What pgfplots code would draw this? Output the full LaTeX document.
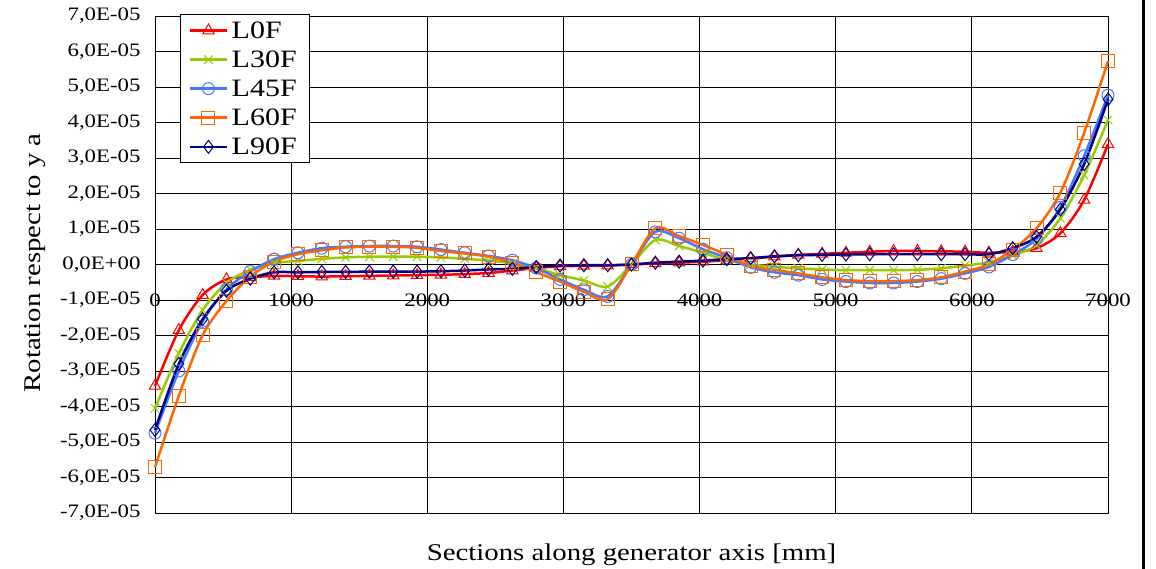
\documentclass[border=0pt]{standalone}
\usepackage{fontspec}
\setmainfont{Liberation Serif}[FakeStretch=1.2]
\usepackage{pgfplots}
\pgfplotsset{compat=1.18}
\usepackage{pgfplotstable}
\definecolor{cLzero}{RGB}{255,0,0}
\definecolor{cLthirty}{RGB}{153,204,0}
\definecolor{cLfortyfive}{RGB}{70,120,255}
\definecolor{cLsixty}{RGB}{255,102,0}
\definecolor{cLninety}{RGB}{0,0,128}
\pgfplotstableread{
x L0F L30F L45F L60F L90F
0 -3.42 -4.05 -4.75 -5.71 -4.66
175 -1.85 -2.5 -3.0 -3.7 -2.8
350 -0.86 -1.28 -1.6 -1.99 -1.54
525 -0.42 -0.52 -0.7 -1.03 -0.74
700 -0.36 -0.15 -0.2 -0.34 -0.4
875 -0.32 0.04 0.15 0.08 -0.22
1050 -0.33 0.1 0.33 0.29 -0.22
1225 -0.34 0.16 0.46 0.4 -0.21
1400 -0.33 0.2 0.5 0.48 -0.21
1575 -0.32 0.22 0.52 0.5 -0.2
1750 -0.31 0.22 0.52 0.5 -0.2
1925 -0.3 0.22 0.5 0.47 -0.2
2100 -0.29 0.2 0.42 0.38 -0.19
2275 -0.27 0.16 0.33 0.31 -0.17
2450 -0.24 0.11 0.24 0.22 -0.14
2625 -0.17 0.03 0.12 0.04 -0.12
2800 -0.1 -0.1 -0.1 -0.22 -0.07
2975 -0.05 -0.3 -0.42 -0.48 -0.03
3150 -0.04 -0.45 -0.71 -0.77 -0.02
3325 -0.03 -0.62 -0.9 -0.98 -0.02
3500 0 0 0 0 0
3675 0.03 0.69 0.92 1.02 0.05
3850 0.05 0.52 0.74 0.8 0.08
4025 0.08 0.33 0.43 0.55 0.11
4200 0.12 0.12 0.19 0.27 0.15
4375 0.17 0.0 -0.08 -0.04 0.18
4550 0.22 -0.06 -0.22 -0.15 0.23
4725 0.27 -0.11 -0.3 -0.25 0.26
4900 0.3 -0.14 -0.42 -0.36 0.27
5075 0.33 -0.16 -0.48 -0.44 0.28
5250 0.36 -0.16 -0.52 -0.47 0.29
5425 0.38 -0.16 -0.52 -0.47 0.29
5600 0.38 -0.15 -0.48 -0.44 0.29
5775 0.37 -0.11 -0.4 -0.36 0.29
5950 0.36 -0.03 -0.25 -0.2 0.29
6125 0.33 0.06 -0.07 0.0 0.29
6300 0.36 0.25 0.28 0.42 0.46
6475 0.46 0.55 0.72 1.02 0.78
6650 0.88 1.3 1.61 2.02 1.55
6825 1.82 2.52 3.06 3.71 2.83
7000 3.39 4.07 4.77 5.73 4.65
}\datatable
\begin{document}
\begin{tikzpicture}
\path[use as bounding box] (0,0) rectangle (1156pt,569pt);
\begin{axis}[
  at={(155pt,56pt)}, anchor=south west,
  scale only axis, width=953pt, height=497pt,
  xmin=0, xmax=7000, ymin=-7, ymax=7,
  clip=false,
  axis line style={black, line width=0.9pt},
  grid=major,
  major grid style={black, line width=0.8pt},
  major tick length=0pt,
  xtick={0,1000,2000,3000,4000,5000,6000,7000},
  xticklabels={0,1000,2000,3000,4000,5000,6000,7000},
  ytick={-7,-6,-5,-4,-3,-2,-1,0,1,2,3,4,5,6,7},
  yticklabels={{-7,0E-05},{-6,0E-05},{-5,0E-05},{-4,0E-05},{-3,0E-05},{-2,0E-05},{-1,0E-05},{0,0E+00},{1,0E-05},{2,0E-05},{3,0E-05},{4,0E-05},{5,0E-05},{6,0E-05},{7,0E-05}},
  yticklabel style={font=\fontsize{19}{22}\selectfont, xshift=-11pt},
  xticklabel style={font=\fontsize{19}{22}\selectfont, anchor=center, yshift=213pt},
  xlabel={Sections along generator axis [mm]},
  xlabel style={font=\fontsize{24}{28}\selectfont, at={(axis description cs:0.5,0)}, anchor=center, yshift=-42pt},
  legend cell align=left,
  legend style={at={(0.026,1.004)}, anchor=north west, draw=black, line width=0.9pt,
    font=\fontsize{25}{28}\selectfont, inner xsep=9pt, inner ysep=5pt, row sep=7pt,
    nodes={inner xsep=4pt}},
  legend image code/.code={\draw[mark repeat=2,mark phase=2,#1] plot coordinates {(0pt,0pt)(18pt,0pt)(36pt,0pt)};},
  every axis plot/.append style={line width=2.5pt, smooth, tension=0.5},
]
\addplot[color=cLzero, mark=triangle, mark size=6.5pt, mark options={solid, line width=1pt}] table[x=x,y=L0F] {\datatable};
\addlegendentry{L0F}
\addplot[color=cLthirty, mark=x, mark size=6pt, mark options={solid, line width=1pt}] table[x=x,y=L30F] {\datatable};
\addlegendentry{L30F}
\addplot[color=cLfortyfive, mark=o, mark size=6pt, mark options={solid, line width=1pt}] table[x=x,y=L45F] {\datatable};
\addlegendentry{L45F}
\addplot[color=cLsixty, mark=square, mark size=6.5pt, mark options={solid, line width=1pt}] table[x=x,y=L60F] {\datatable};
\addlegendentry{L60F}
\addplot[color=cLninety, mark=diamond, mark size=6.5pt, mark options={solid, line width=1pt}] table[x=x,y=L90F] {\datatable};
\addlegendentry{L90F}
\end{axis}
\node[rotate=90, font=\fontsize{24}{28}\selectfont] at (35pt,306pt) {Rotation respect to y a};
\draw[black, line width=3pt] (1143pt,0pt) -- (1143pt,569pt);
\end{tikzpicture}
\end{document}
